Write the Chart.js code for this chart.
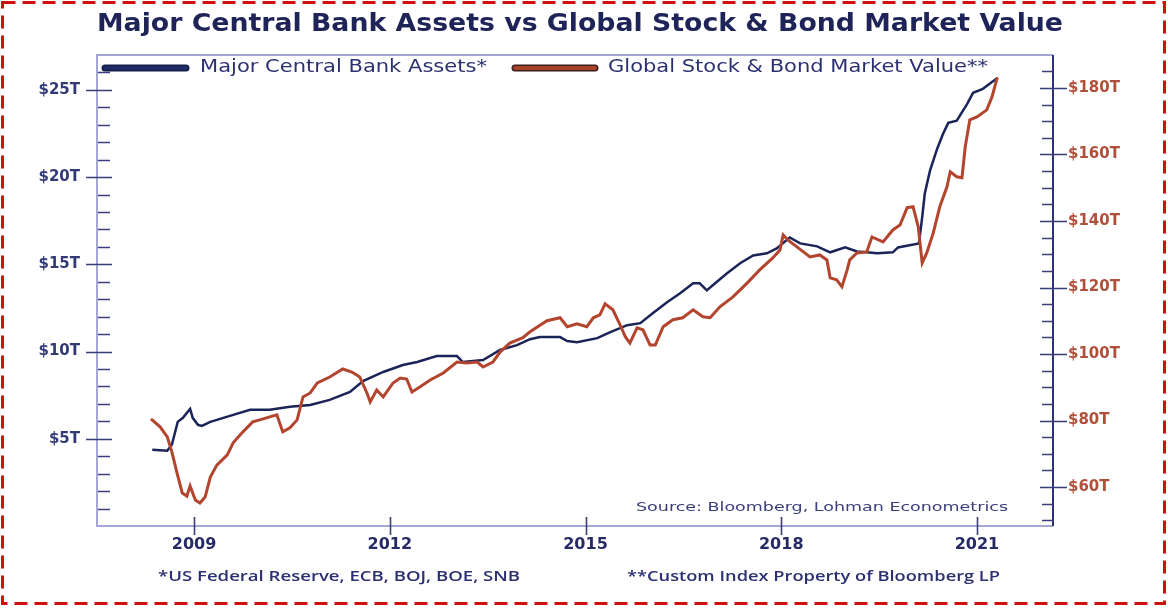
<!DOCTYPE html>
<html>
<head>
<meta charset="utf-8">
<title>Major Central Bank Assets vs Global Stock & Bond Market Value</title>
<script src="https://cdn.jsdelivr.net/npm/chart.js@4.4.1/dist/chart.umd.min.js"></script>
<style>
  html, body { margin: 0; padding: 0; background: #ffffff; }
  canvas { display: block; }
</style>
</head>
<body>
<canvas id="assetsChart" width="1168" height="608"></canvas>
<script>
// Major central bank assets (US$ trillions, left axis)
const cbYears = [2008.36, 2008.59, 2008.66, 2008.75, 2008.83, 2008.94, 2008.98, 2009.06, 2009.12, 2009.25,
  2009.55, 2009.86, 2010.16, 2010.47, 2010.78, 2011.08, 2011.39, 2011.59, 2011.90, 2012.20,
  2012.42, 2012.72, 2013.03, 2013.12, 2013.43, 2013.69, 2013.95, 2014.15, 2014.30, 2014.61,
  2014.72, 2014.87, 2015.18, 2015.38, 2015.64, 2015.84, 2016.03, 2016.25, 2016.45, 2016.65,
  2016.75, 2016.86, 2016.95, 2017.17, 2017.37, 2017.57, 2017.78, 2017.93, 2018.13, 2018.29,
  2018.55, 2018.75, 2018.98, 2019.16, 2019.31, 2019.47, 2019.71, 2019.79, 2020.11, 2020.16,
  2020.20, 2020.28, 2020.39, 2020.48, 2020.56, 2020.69, 2020.85, 2020.94, 2021.09, 2021.25, 2021.32];
const cbAssets = [4.37, 4.31, 4.66, 5.97, 6.20, 6.71, 6.20, 5.80, 5.74, 5.97,
  6.31, 6.66, 6.66, 6.83, 6.94, 7.23, 7.69, 8.31, 8.83, 9.23,
  9.40, 9.74, 9.74, 9.40, 9.51, 10.09, 10.37, 10.71, 10.83, 10.83,
  10.60, 10.54, 10.77, 11.11, 11.51, 11.63, 12.20, 12.83, 13.34, 13.91,
  13.91, 13.51, 13.80, 14.49, 15.06, 15.51, 15.63, 15.91, 16.54, 16.20,
  16.03, 15.69, 15.97, 15.74, 15.69, 15.63, 15.69, 15.97, 16.20, 17.69,
  19.06, 20.37, 21.63, 22.49, 23.11, 23.23, 24.20, 24.83, 25.06, 25.51, 25.69];

// Global stock & bond market value (US$ trillions, right axis)
const mktYears = [2008.34, 2008.48, 2008.59, 2008.66, 2008.74, 2008.82, 2008.89, 2008.94, 2009.02, 2009.09,
  2009.17, 2009.25, 2009.35, 2009.51, 2009.60, 2009.75, 2009.90, 2010.06, 2010.16, 2010.27,
  2010.36, 2010.47, 2010.58, 2010.67, 2010.78, 2010.89, 2011.08, 2011.28, 2011.42, 2011.54,
  2011.65, 2011.70, 2011.80, 2011.90, 2012.05, 2012.16, 2012.26, 2012.34, 2012.46, 2012.62,
  2012.82, 2013.03, 2013.18, 2013.34, 2013.43, 2013.58, 2013.69, 2013.84, 2014.04, 2014.15,
  2014.41, 2014.61, 2014.72, 2014.87, 2015.02, 2015.12, 2015.22, 2015.30, 2015.42, 2015.53,
  2015.61, 2015.68, 2015.79, 2015.88, 2015.99, 2016.07, 2016.19, 2016.34, 2016.49, 2016.65,
  2016.80, 2016.91, 2017.06, 2017.26, 2017.48, 2017.67, 2017.87, 2017.98, 2018.03, 2018.10,
  2018.24, 2018.44, 2018.59, 2018.70, 2018.75, 2018.85, 2018.93, 2019.01, 2019.05, 2019.16,
  2019.31, 2019.39, 2019.56, 2019.71, 2019.82, 2019.93, 2020.02, 2020.10, 2020.16, 2020.23,
  2020.33, 2020.43, 2020.54, 2020.59, 2020.69, 2020.77, 2020.82, 2020.89, 2021.00, 2021.15,
  2021.23, 2021.31];
const mktValue = [80.5, 78.1, 75.1, 70.6, 64.2, 58.2, 57.3, 60.3, 56.1, 55.2,
  57.0, 63.0, 66.6, 69.7, 73.3, 76.6, 79.6, 80.5, 81.1, 81.7,
  76.6, 77.8, 80.2, 87.1, 88.3, 91.3, 93.1, 95.5, 94.6, 93.1,
  88.3, 85.6, 89.2, 87.1, 91.3, 92.8, 92.5, 88.6, 90.1, 92.2,
  94.3, 97.6, 97.3, 97.6, 96.1, 97.6, 100.6, 103.3, 104.9, 106.7,
  110.0, 110.9, 108.2, 109.1, 108.2, 110.9, 111.8, 115.1, 113.3, 108.8,
  105.2, 103.3, 107.9, 107.3, 102.7, 102.7, 108.2, 110.3, 110.9, 113.3,
  111.2, 110.9, 114.2, 117.2, 121.4, 125.3, 128.9, 131.3, 135.8, 134.3,
  132.2, 129.2, 129.8, 128.3, 122.9, 122.3, 120.2, 125.3, 128.3, 130.4,
  130.7, 135.2, 133.7, 137.3, 138.8, 144.0, 144.3, 138.2, 127.4, 130.4,
  136.4, 144.3, 150.3, 154.8, 153.3, 153.0, 162.3, 170.4, 171.3, 173.4,
  177.3, 183.1];

// axis ticks
const yearTicks = [2009, 2012, 2015, 2018, 2021];
const leftTicks = [5, 10, 15, 20, 25];
const rightTicks = [60, 80, 100, 120, 140, 160, 180];

const NAVY = '#262b66';
const BRICK = '#b0503a';

function stretchText(ctx, text, x, y, width, font, color) {
  ctx.save();
  ctx.font = font;
  ctx.fillStyle = color;
  ctx.textAlign = 'left';
  ctx.textBaseline = 'middle';
  const w = ctx.measureText(text).width;
  ctx.translate(x, y);
  ctx.scale(width / w, 1);
  ctx.fillText(text, 0, 0);
  ctx.restore();
}

// frame, tick marks (major + minor) drawn from the chart's scales
const framePlugin = {
  id: 'frame',
  beforeDatasetsDraw(chart) {
    const { ctx, chartArea: a, scales } = chart;
    ctx.save();
    ctx.lineWidth = 2;
    ctx.strokeStyle = '#a4a6d6';
    ctx.beginPath();
    ctx.moveTo(a.right, a.top); ctx.lineTo(a.left, a.top);
    ctx.lineTo(a.left, a.bottom); ctx.lineTo(a.right, a.bottom);
    ctx.stroke();
    ctx.strokeStyle = '#2d3270';
    ctx.beginPath();
    ctx.moveTo(a.right, a.top); ctx.lineTo(a.right, a.bottom);
    ctx.stroke();

    ctx.lineWidth = 1.6;
    ctx.strokeStyle = '#3a3e78';
    ctx.beginPath();
    // left axis
    for (let v = 1; v < 27; v++) {
      const y = Math.round(scales.yL.getPixelForValue(v)) + 0.5;
      if (leftTicks.includes(v)) { ctx.moveTo(a.left - 11, y); ctx.lineTo(a.left + 15, y); }
      else { ctx.moveTo(a.left + 1, y); ctx.lineTo(a.left + 13, y); }
    }
    // right axis
    for (let v = 50; v < 190; v += 5) {
      const y = Math.round(scales.yR.getPixelForValue(v)) + 0.5;
      if (rightTicks.includes(v)) { ctx.moveTo(a.right - 13, y); ctx.lineTo(a.right + 14, y); }
      else { ctx.moveTo(a.right - 11, y); ctx.lineTo(a.right, y); }
    }
    // x axis
    yearTicks.forEach(v => {
      const x = Math.round(scales.x.getPixelForValue(v)) + 0.5;
      ctx.moveTo(x, a.bottom - 9); ctx.lineTo(x, a.bottom + 9);
    });
    ctx.stroke();
    ctx.restore();
  },
  afterDraw(chart) {
    const { ctx, chartArea: a } = chart;
    ctx.save();
    // title
    stretchText(ctx, 'Major Central Bank Assets vs Global Stock & Bond Market Value',
      97, 25, 966, 'bold 24px "DejaVu Sans"', '#1e2358');

    // legend
    ctx.lineCap = 'round';
    ctx.strokeStyle = '#17204f'; ctx.lineWidth = 7;
    ctx.beginPath(); ctx.moveTo(a.left + 8, 68); ctx.lineTo(a.left + 89, 68); ctx.stroke();
    ctx.strokeStyle = '#1f2d6a'; ctx.lineWidth = 3;
    ctx.beginPath(); ctx.moveTo(a.left + 8, 68); ctx.lineTo(a.left + 89, 68); ctx.stroke();
    ctx.strokeStyle = '#3a1e1a'; ctx.lineWidth = 7;
    ctx.beginPath(); ctx.moveTo(515, 68); ctx.lineTo(595, 68); ctx.stroke();
    ctx.strokeStyle = '#a9412b'; ctx.lineWidth = 4;
    ctx.beginPath(); ctx.moveTo(515, 68); ctx.lineTo(595, 68); ctx.stroke();
    stretchText(ctx, 'Major Central Bank Assets*', 200, 68, 287, '17px "DejaVu Sans"', '#2b3070');
    stretchText(ctx, 'Global Stock & Bond Market Value**', 608, 68, 380, '17px "DejaVu Sans"', '#2b3070');

    // source + footnotes
    stretchText(ctx, 'Source: Bloomberg, Lohman Econometrics', 636, 508, 372, '13px "DejaVu Sans"', '#3a3f7c');
    stretchText(ctx, '*US Federal Reserve, ECB, BOJ, BOE, SNB', 158, 577, 362, '600 14px "Open Sans"', '#2b3070');
    stretchText(ctx, '**Custom Index Property of Bloomberg LP', 627, 577, 373, '600 14px "Open Sans"', '#2b3070');

    // red dashed outer border
    ctx.setLineDash([13, 7]);
    ctx.lineCap = 'butt';
    ctx.lineWidth = 3;
    ctx.strokeStyle = '#d10f0f';
    ctx.strokeRect(2.5, 2.5, 1162, 601);
    ctx.restore();
  }
};

const ctx = document.getElementById('assetsChart').getContext('2d');
new Chart(ctx, {
  type: 'line',
  data: {
    datasets: [{
      label: 'Global Stock & Bond Market Value**',
      data: mktYears.map((x, i) => ({ x: x, y: mktValue[i] })),
      yAxisID: 'yR',
      borderColor: '#b3452f',
      borderWidth: 3,
      pointRadius: 0,
      tension: 0
    }, {
      label: 'Major Central Bank Assets*',
      data: cbYears.map((x, i) => ({ x: x, y: cbAssets[i] })),
      yAxisID: 'yL',
      borderColor: '#1b2458',
      borderWidth: 2.5,
      pointRadius: 0,
      tension: 0
    }]
  },
  options: {
    responsive: false,
    animation: false,
    layout: { padding: { top: 55 } },
    plugins: {
      legend: { display: false },
      tooltip: { enabled: false }
    },
    scales: {
      x: {
        type: 'linear',
        min: 2007.513,
        max: 2022.165,
        afterBuildTicks: s => { s.ticks = yearTicks.map(v => ({ value: v })); },
        afterFit: s => { s.height = 82; },
        grid: { display: false, drawTicks: false, tickLength: 0 },
        border: { display: false },
        ticks: {
          padding: 9,
          autoSkip: false,
          maxRotation: 0,
          color: NAVY,
          font: { family: 'DejaVu Sans', size: 16, weight: 'bold' },
          callback: v => String(v)
        }
      },
      yL: {
        position: 'left',
        min: 0,
        max: 27,
        afterBuildTicks: s => { s.ticks = leftTicks.map(v => ({ value: v })); },
        afterFit: s => { s.width = 97; },
        grid: { display: false, drawTicks: false, tickLength: 0 },
        border: { display: false },
        ticks: {
          padding: 17,
          color: '#333a78',
          font: { family: 'DejaVu Sans', size: 15, weight: 'bold' },
          callback: v => '$' + v + 'T'
        }
      },
      yR: {
        position: 'right',
        min: 48.3,
        max: 189.9,
        afterBuildTicks: s => { s.ticks = rightTicks.map(v => ({ value: v })); },
        afterFit: s => { s.width = 115; },
        grid: { display: false, drawTicks: false, tickLength: 0 },
        border: { display: false },
        ticks: {
          padding: 15,
          color: BRICK,
          font: { family: 'DejaVu Sans', size: 15, weight: 'bold' },
          callback: v => '$' + v + 'T'
        }
      }
    }
  },
  plugins: [framePlugin]
});
</script>
</body>
</html>
